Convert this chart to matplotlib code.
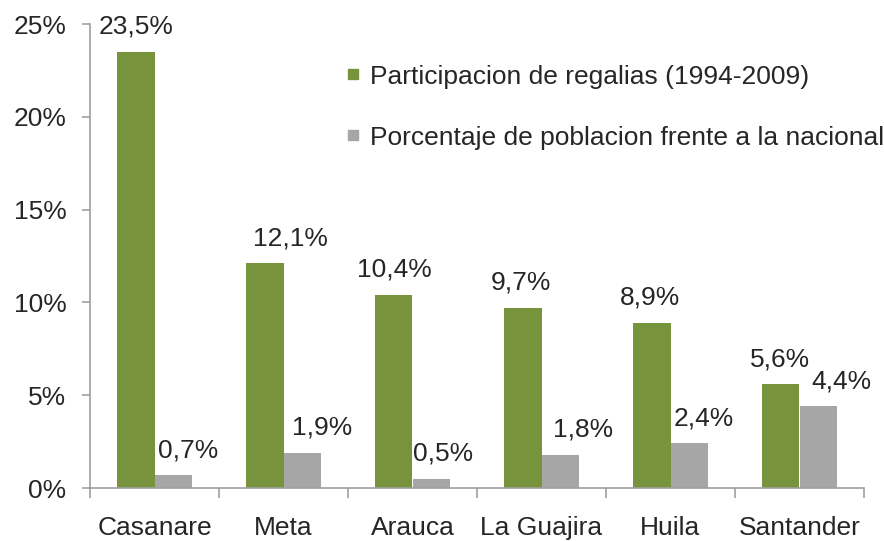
import numpy as np
import matplotlib.pyplot as plt
from matplotlib.lines import Line2D
from matplotlib.ticker import FuncFormatter

# Departamentos y porcentajes
departamentos = ['Casanare', 'Meta', 'Arauca', 'La Guajira', 'Huila', 'Santander']
regalias = [23.5, 12.1, 10.4, 9.7, 8.9, 5.6]
poblacion = [0.7, 1.9, 0.5, 1.8, 2.4, 4.4]
series_names = ['Participacion de regalias (1994-2009)',
                'Porcentaje de poblacion frente a la nacional']

VERDE = '#77933c'
GRIS = '#a6a6a6'
TEXTO = '#262626'
EJE = '#a0a0a0'

# horizontal nudges (pixels) for the value labels
dx_regalias = [0, 25, 0, -2, -2, -1]
dx_poblacion = [15, 20, 12, 23, 15, 23]

plt.rcParams['font.family'] = ['Liberation Sans', 'DejaVu Sans']
fs = 19

fig = plt.figure(figsize=(8.84, 5.41), dpi=100)
ax = fig.add_axes([90 / 884, 53 / 541, 774 / 884, 464 / 541])

x = np.arange(len(departamentos))
w = 0.287
b1 = ax.bar(x - w / 2, regalias, w, color=VERDE)
b2 = ax.bar(x + w / 2, poblacion, w, color=GRIS)

def fmt(v):
    return ('%.1f%%' % v).replace('.', ',')

for bars, vals, dxs in [(b1, regalias, dx_regalias), (b2, poblacion, dx_poblacion)]:
    for rect, v, dx in zip(bars, vals, dxs):
        ax.annotate(fmt(v), (rect.get_x() + rect.get_width() / 2, v),
                    xytext=(dx * 0.72, 18), textcoords='offset points',
                    ha='center', va='center', fontsize=fs, color=TEXTO)

ax.set_xlim(-0.5, len(departamentos) - 0.5)
ax.set_ylim(0, 25)
ax.set_yticks(np.arange(0, 26, 5))
ax.yaxis.set_major_formatter(FuncFormatter(lambda v, p: '%d%%' % v))
ax.set_xticks(np.arange(-0.5, len(departamentos), 1.0))
ax.set_xticklabels([])
ax.set_xticks(x, minor=True)
ax.set_xticklabels(departamentos, minor=True)

ax.tick_params(axis='y', which='major', length=6, width=1.2, color=EJE,
               labelsize=fs, labelcolor=TEXTO, pad=11)
ax.tick_params(axis='x', which='major', length=7, width=1.2, color=EJE)
ax.tick_params(axis='x', which='minor', length=0, labelsize=fs,
               labelcolor=TEXTO, pad=20)

for s in ['top', 'right']:
    ax.spines[s].set_visible(False)
for s in ['left', 'bottom']:
    ax.spines[s].set_color(EJE)
    ax.spines[s].set_linewidth(1.2)

handles = [Line2D([], [], marker='s', linestyle='none', markersize=6.5,
                  markerfacecolor=c, markeredgecolor=c) for c in (VERDE, GRIS)]
ax.legend(handles, series_names, loc='upper left', bbox_to_anchor=(0.316, 0.935),
          frameon=False, fontsize=fs, labelcolor=TEXTO, handlelength=0.6,
          handletextpad=0.35, labelspacing=1.4, borderaxespad=0)

fig.savefig('out.png', dpi=100)
